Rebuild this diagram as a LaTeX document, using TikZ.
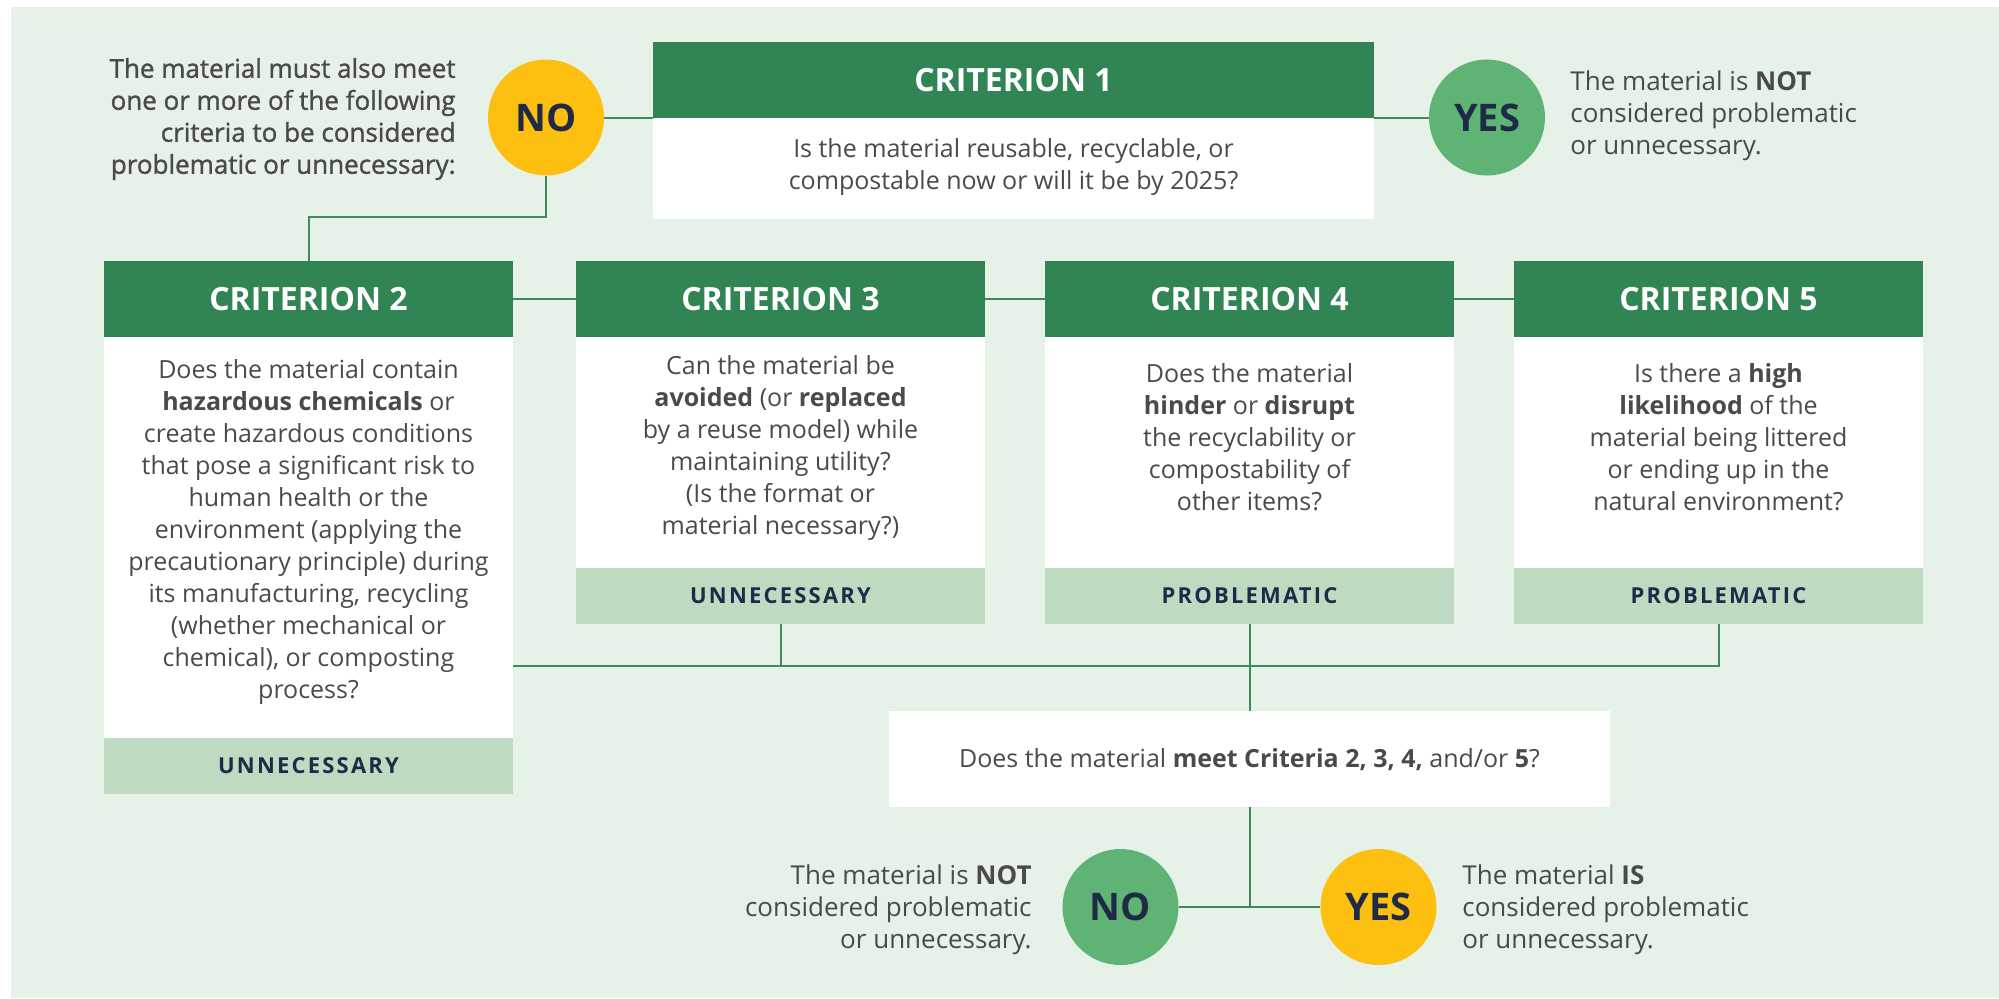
\documentclass[tikz,border=0pt]{standalone}
\usepackage{fontspec}
\setmainfont{Open Sans}
\IfFontExistsTF{Open Sans SemiBold}
  {\newfontfamily\semibold{Open Sans SemiBold}}
  {\newfontfamily\semibold{Open Sans}[FakeBold=1.2]}
\usetikzlibrary{fit,calc}

\definecolor{bgc}{HTML}{E6F1E8}
\definecolor{hdrgreen}{HTML}{318453}
\definecolor{lblgreen}{HTML}{BEDBC1}
\definecolor{discgreen}{HTML}{5FB475}
\definecolor{discyellow}{HTML}{FDC010}
\definecolor{navy}{HTML}{1F2B46}
\definecolor{txtgray}{HTML}{4A4A4A}
\definecolor{linegreen}{HTML}{3E8A5B}

\tikzset{
  box/.style={inner sep=0pt, draw=none},
  hdr/.style={box, fill=hdrgreen},
  bodybox/.style={box, fill=white},
  lbl/.style={box, fill=lblgreen},
  hdrtext/.style={inner sep=0pt, text=white, font=\fontsize{16}{19}\selectfont\bfseries},
  bodytext/.style={inner sep=0pt, text=txtgray, align=center, font=\fontsize{12.5}{16}\selectfont},
  lbltext/.style={inner sep=0pt, text=navy, font=\fontsize{11}{13}\selectfont\bfseries\addfontfeatures{LetterSpace=10}},
  calltext/.style={inner sep=0pt, text=txtgray, font=\fontsize{13}{16}\selectfont},
  disc/.style={circle, minimum size=58pt, inner sep=0pt, text=navy, font=\fontsize{19}{22}\selectfont\bfseries},
  link/.style={draw=linegreen, line width=1pt},
}

\begin{document}
\begin{tikzpicture}[x=0.5pt, y=-0.5pt]
  \useasboundingbox (0,0) rectangle (1999,998);
  \fill[bgc] (11,7) rectangle (1999,998);

  % criterion 1
  \node[hdr, fit={(653,42)(1374,118)}] (h1) {};
  \node[bodybox, fit={(653,118)(1374,219)}] (b1) {};
  \node[hdrtext] (h1t) at (h1.center) {CRITERION 1};
  \node[bodytext] (b1t) at (1013.5,167) {Is the material reusable, recyclable, or\\compostable now or will it be by 2025?};

  \node[disc, fill=discyellow] (no1) at (546,117.5) {NO};
  \node[disc, fill=discgreen] (yes1) at (1487,117.5) {YES};

  \node[inner sep=0pt, text=txtgray, align=right, anchor=east,
        font=\fontsize{13}{16}\selectfont\semibold] (callno1) at (456,119)
    {The material must also meet\\one or more of the following\\criteria to be considered\\problematic or unnecessary:};
  \node[calltext, align=left, anchor=west] (callyes1) at (1570,116)
    {The material is \textbf{NOT}\\considered problematic\\or unnecessary.};

  % criterion 2
  \node[hdr, fit={(104,261)(513,337)}] (h2) {};
  \node[bodybox, fit={(104,337)(513,738)}] (b2) {};
  \node[lbl, fit={(104,738)(513,794)}] (l2) {};
  \node[hdrtext] (h2t) at (h2.center) {CRITERION 2};
  \node[lbltext] (l2t) at (l2.center) {UNNECESSARY};
  \node[bodytext] (b2t) at (308.5,532) {Does the material contain\\
    \textbf{hazardous chemicals} or\\
    create hazardous conditions\\
    that pose a significant risk to\\
    human health or the\\
    environment (applying the\\
    precautionary principle) during\\
    its manufacturing, recycling\\
    (whether mechanical or\\
    chemical), or composting\\
    process?};

  % criterion 3
  \node[hdr, fit={(576,261)(985,337)}] (h3) {};
  \node[bodybox, fit={(576,337)(985,568)}] (b3) {};
  \node[lbl, fit={(576,568)(985,624)}] (l3) {};
  \node[hdrtext] (h3t) at (h3.center) {CRITERION 3};
  \node[lbltext] (l3t) at (l3.center) {UNNECESSARY};
  \node[bodytext] (b3t) at (780.5,448) {Can the material be\\
    \textbf{avoided} (or \textbf{replaced}\\
    by a reuse model) while\\
    maintaining utility?\\
    (Is the format or\\
    material necessary?)};

  % criterion 4
  \node[hdr, fit={(1045,261)(1454,337)}] (h4) {};
  \node[bodybox, fit={(1045,337)(1454,568)}] (b4) {};
  \node[lbl, fit={(1045,568)(1454,624)}] (l4) {};
  \node[hdrtext] (h4t) at (h4.center) {CRITERION 4};
  \node[lbltext] (l4t) at (l4.center) {PROBLEMATIC};
  \node[bodytext] (b4t) at (1249.5,437) {Does the material\\
    \textbf{hinder} or \textbf{disrupt}\\
    the recyclability or\\
    compostability of\\
    other items?};

  % criterion 5
  \node[hdr, fit={(1514,261)(1923,337)}] (h5) {};
  \node[bodybox, fit={(1514,337)(1923,568)}] (b5) {};
  \node[lbl, fit={(1514,568)(1923,624)}] (l5) {};
  \node[hdrtext] (h5t) at (h5.center) {CRITERION 5};
  \node[lbltext] (l5t) at (l5.center) {PROBLEMATIC};
  \node[bodytext] (b5t) at (1718.5,437) {Is there a \textbf{high}\\
    \textbf{likelihood} of the\\
    material being littered\\
    or ending up in the\\
    natural environment?};

  % summary question and outcomes
  \node[bodybox, fit={(889,711)(1610,807)}] (q) {};
  \node[bodytext] (qt) at (1249.5,760) {Does the material \textbf{meet Criteria 2, 3, 4,} and/or \textbf{5}?};

  \node[disc, fill=discgreen] (no2) at (1120.5,907) {NO};
  \node[disc, fill=discyellow] (yes2) at (1378.5,907) {YES};
  \node[calltext, align=right, anchor=east] (callno2) at (1032,910)
    {The material is \textbf{NOT}\\considered problematic\\or unnecessary.};
  \node[calltext, align=left, anchor=west] (callyes2) at (1462,910)
    {The material \textbf{IS}\\considered problematic\\or unnecessary.};

  % connectors
  \coordinate (j1) at (308.5,217);
  \coordinate (bus) at (0,666);
  \draw[link] (no1.east) -- (no1.east -| h1.west);
  \draw[link] (h1.east |- yes1) -- (yes1.west);
  \draw[link] (no1.south) |- (j1) -- (h2.north);
  \draw[link] (h2.east) -- (h3.west);
  \draw[link] (h3.east) -- (h4.west);
  \draw[link] (h4.east) -- (h5.west);
  \draw[link] (b2.east |- bus) -- (l5.south |- bus) -- (l5.south);
  \draw[link] (l3.south) -- (l3.south |- bus);
  \draw[link] (l4.south) -- (q.north);
  \draw[link] (q.south) -- (q.south |- no2);
  \draw[link] (no2.east) -- (yes2.west);
\end{tikzpicture}
\end{document}
